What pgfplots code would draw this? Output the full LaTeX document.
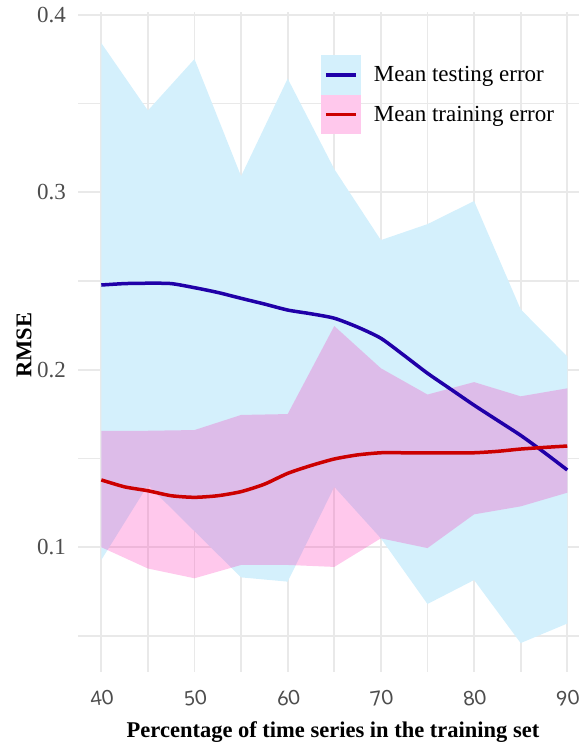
\documentclass[border=0pt]{standalone}
\usepackage{fontspec}
\setmainfont{Liberation Serif}
\newfontfamily\tickfont{Lato}
\usepackage{pgfplots}
\pgfplotsset{compat=1.18}
\usepackage{pgfplotstable}
\definecolor{testband}{RGB}{212,240,252}
\definecolor{trainfill}{RGB}{255,17,172}
\definecolor{trainkey}{RGB}{255,200,236}
\definecolor{testline}{RGB}{32,0,168}
\definecolor{trainline}{RGB}{204,0,0}
\definecolor{gridc}{RGB}{233,233,233}
\definecolor{ticktxt}{RGB}{77,77,77}

% testing band: upper edge 40->90, then lower edge 90->40
\pgfplotstableread{
x y
40 0.384
45 0.346
50 0.375
55 0.309
60 0.364
65 0.313
70 0.273
75 0.282
80 0.295
85 0.234
90 0.2075
90 0.057
85 0.046
80 0.0815
75 0.068
70 0.105
65 0.134
60 0.0806
55 0.083
50 0.109
45 0.135
40 0.0928
}\testband

% training band: upper edge 40->90, then lower edge 90->40
\pgfplotstableread{
x y
40 0.1656
45 0.1656
50 0.166
55 0.1745
60 0.175
65 0.2246
70 0.2008
75 0.186
80 0.193
85 0.185
90 0.1895
90 0.1307
85 0.123
80 0.1185
75 0.0995
70 0.105
65 0.0889
60 0.090
55 0.090
50 0.0825
45 0.088
40 0.100
}\trainband

\pgfplotstableread{
x y
40 0.2477
42.5 0.2485
45 0.2487
47.5 0.2485
50 0.2462
52.5 0.2435
55 0.2402
57.5 0.2370
60 0.2336
62.5 0.2315
65 0.2290
67.5 0.2240
70 0.2177
72.5 0.2080
75 0.1980
77.5 0.1890
80 0.1800
82.5 0.1715
85 0.1630
87.5 0.1535
90 0.1435
}\testmean

\pgfplotstableread{
x y
40 0.1379
42.5 0.1340
45 0.1318
47.5 0.1290
50 0.1281
52.5 0.1290
55 0.1313
57.5 0.1355
60 0.1416
62.5 0.1460
65 0.1497
67.5 0.1520
70 0.1532
72.5 0.1532
75 0.1532
77.5 0.1532
80 0.1532
82.5 0.1540
85 0.1553
87.5 0.1562
90 0.1570
}\trainmean

\begin{document}
\begin{tikzpicture}
\begin{axis}[
  at={(0pt,0pt)}, anchor=south west,
  scale only axis,
  width=501pt, height=660pt,
  xmin=37.5, xmax=91.26,
  ymin=0.0297, ymax=0.4015,
  axis line style={draw=none},
  xtick={40,50,...,90},
  minor xtick={45,55,...,85},
  ytick={0.1,0.2,0.3,0.4},
  minor ytick={0.05,0.15,0.25,0.35},
  grid=both,
  major grid style={gridc, line width=1.7pt},
  minor grid style={gridc, line width=1.7pt},
  major tick length=0pt, minor tick length=0pt,
  /pgf/number format/assume math mode=true,
  yticklabel style={/pgf/number format/.cd, fixed, fixed zerofill, precision=1, /tikz/.cd,
    font=\fontsize{23}{27}\selectfont, text=ticktxt, inner xsep=0pt, xshift=-12pt},
  xticklabel style={font=\tickfont\fontsize{20}{24}\selectfont, text=ticktxt,
    rotate=8, anchor=center, yshift=-26pt, xshift=-3pt},
  xlabel={\textbf{Percentage of time series in the training set}},
  ylabel={\textbf{RMSE}},
  xlabel style={at={(axis description cs:0.509,0)}, anchor=center, yshift=-60pt,
    font=\fontsize{22.5}{26}\selectfont},
  ylabel style={at={(axis description cs:0,0.495)}, anchor=center, yshift=54pt,
    font=\fontsize{22.5}{26}\selectfont},
  legend style={at={(axis description cs:0.485,0.935)}, anchor=north west,
    draw=none, fill=none, inner sep=0pt, row sep=0pt,
    nodes={inner sep=0pt}, font=\fontsize{23}{27}\selectfont},
  legend cell align=left,
]
\addplot[fill=testband, draw=none, forget plot] table[x=x, y=y] {\testband};
\addplot[fill=trainfill, fill opacity=0.23, draw=none, forget plot] table[x=x, y=y] {\trainband};
\addplot[testline, line width=3.5pt, smooth, tension=0.4,
  legend image code/.code={\fill[testband] (0pt,-18pt) rectangle (36pt,18pt);
    \draw (3pt,0pt) -- (33pt,0pt);
    \path[draw=none] (0pt,0pt) -- (51pt,0pt);}]
  table[x=x, y=y] {\testmean};
\addlegendentry{Mean testing error}
\addplot[trainline, line width=3.5pt, smooth, tension=0.4,
  legend image code/.code={\fill[trainkey] (0pt,-18pt) rectangle (36pt,18pt);
    \draw (3pt,0pt) -- (33pt,0pt);
    \path[draw=none] (0pt,0pt) -- (51pt,0pt);}]
  table[x=x, y=y] {\trainmean};
\addlegendentry{Mean training error}
\end{axis}
\useasboundingbox (-78pt,-76pt) rectangle (501pt,672pt);
\end{tikzpicture}
\end{document}
